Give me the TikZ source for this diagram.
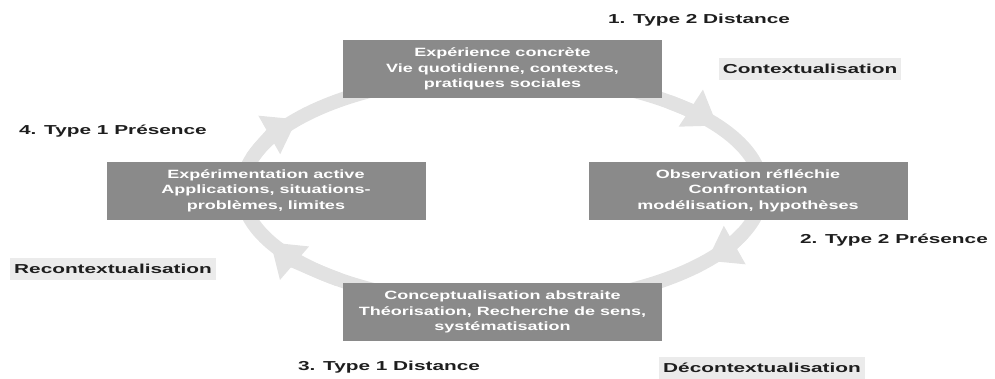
\documentclass[tikz,border=0pt]{standalone}
\usepackage{fontspec}
\newfontfamily\cyclefont[FakeStretch=1.6]{Liberation Sans}
\newfontfamily\phasefont[FakeStretch=1.5]{Liberation Sans}
\definecolor{boxgray}{HTML}{8A8A8A}
\definecolor{ringgray}{HTML}{E2E2E2}
\definecolor{tagfill}{HTML}{EBEBEB}
\definecolor{inkblack}{HTML}{1E1E1E}
\usetikzlibrary{arrows.meta,calc}

\begin{document}
\begin{tikzpicture}[x=1pt,y=1pt,
    phase/.style={fill=boxgray,text=white,minimum width=319pt,minimum height=58pt,inner sep=0pt,align=center,
      font=\phasefont\bfseries\fontsize{12}{15.5}\selectfont},
    stage/.style={text=inkblack,inner sep=0pt,font=\cyclefont\bfseries\fontsize{13}{15}\selectfont},
    tag/.style={stage,fill=tagfill,minimum height=22pt,inner xsep=4pt},
    ring/.style={ringgray,line width=14pt},
    ringtip/.style={ring,-{Triangle[width=42pt,length=32pt]}}]
    \useasboundingbox (0,0) rectangle (995,-378);
    % cycle ring
    \coordinate (ringc) at (502,-190);
    \draw[ring] (ringc) ellipse [x radius=260, y radius=115];
    \draw[ringtip] ($(ringc)+(50:260 and 115)$) arc[start angle=50,end angle=34,x radius=260,y radius=115];
    \draw[ringtip] ($(ringc)+(-22:260 and 115)$) arc[start angle=-22,end angle=-38,x radius=260,y radius=115];
    \draw[ringtip] ($(ringc)+(231:260 and 115)$) arc[start angle=231,end angle=207,x radius=260,y radius=115];
    \draw[ringtip] ($(ringc)+(164:260 and 115)$) arc[start angle=164,end angle=142,x radius=260,y radius=115];
    % four phases
    \node[phase] (concrete) at (502.5,-69) {Expérience concrète\\Vie quotidienne, contextes,\\pratiques sociales};
    \node[phase] (observe) at (748,-190.5) {Observation réfléchie\\Confrontation\\modélisation, hypothèses};
    \node[phase] (abstract) at (502.5,-312) {Conceptualisation abstraite\\Théorisation, Recherche de sens,\\systématisation};
    \node[phase] (active) at (266,-190.5) {Expérimentation active\\Applications, situations-\\problèmes, limites};
    % stage labels
    \node[stage] (dist2) at (699,-20) {1. Type 2 Distance};
    \node[stage] (pres2) at (894,-240) {2. Type 2 Présence};
    \node[stage] (dist1) at (389,-367) {3. Type 1 Distance};
    \node[stage] (pres1) at (113,-131) {4. Type 1 Présence};
    \node[tag] (ctx) at (810,-69) {Contextualisation};
    \node[tag] (dectx) at (762,-368) {Décontextualisation};
    \node[tag] (rectx) at (113,-269) {Recontextualisation};
\end{tikzpicture}
\end{document}
